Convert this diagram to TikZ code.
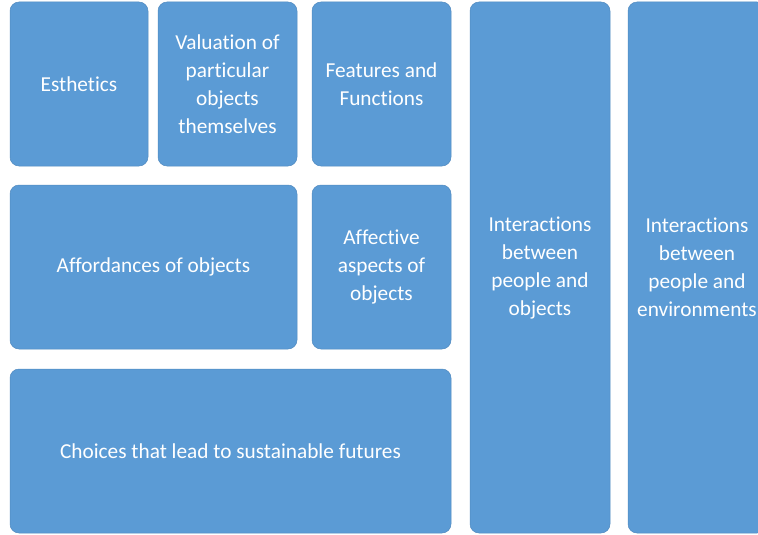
\documentclass[tikz,border=0pt]{standalone}
\usepackage{fontspec}
\setmainfont[Ligatures=NoCommon]{Carlito}
\definecolor{boxblue}{RGB}{91,155,213}

\begin{document}
\begin{tikzpicture}[x=1pt,y=-1pt,
    cell/.style={fill=boxblue,draw=boxblue!90!black,line width=0.5pt,rounded corners=9pt,
      text=white,font=\fontsize{21.3}{28}\selectfont,align=center,inner sep=0pt,minimum height=164pt}]
      \useasboundingbox (0,0) rectangle (758,535);

      \node[cell,minimum width=138pt] (esth) at (79,84) {Esthetics};
      \node[cell,minimum width=139pt] (valu) at (227.5,84) {Valuation of\\particular\\objects\\themselves};
      \node[cell,minimum width=139pt] (feat) at (381.5,84) {Features and\\Functions};

      \node[cell,minimum width=287pt] (afford) at (153.5,267) {Affordances of objects};
      \node[cell,minimum width=139pt] (affect) at (381.5,267) {Affective\\aspects of\\objects};

      \node[cell,minimum width=441pt] (choice) at (230.5,451) {Choices that lead to sustainable futures};

      \node[cell,minimum width=140pt,minimum height=531pt] (intobj) at (540,267.5) {Interactions\\between\\people and\\objects};
      \node[cell,minimum width=138pt,minimum height=531pt] (intenv) at (697,267.5) {Interactions\\between\\people and\\environments};
    \end{tikzpicture}
\end{document}
